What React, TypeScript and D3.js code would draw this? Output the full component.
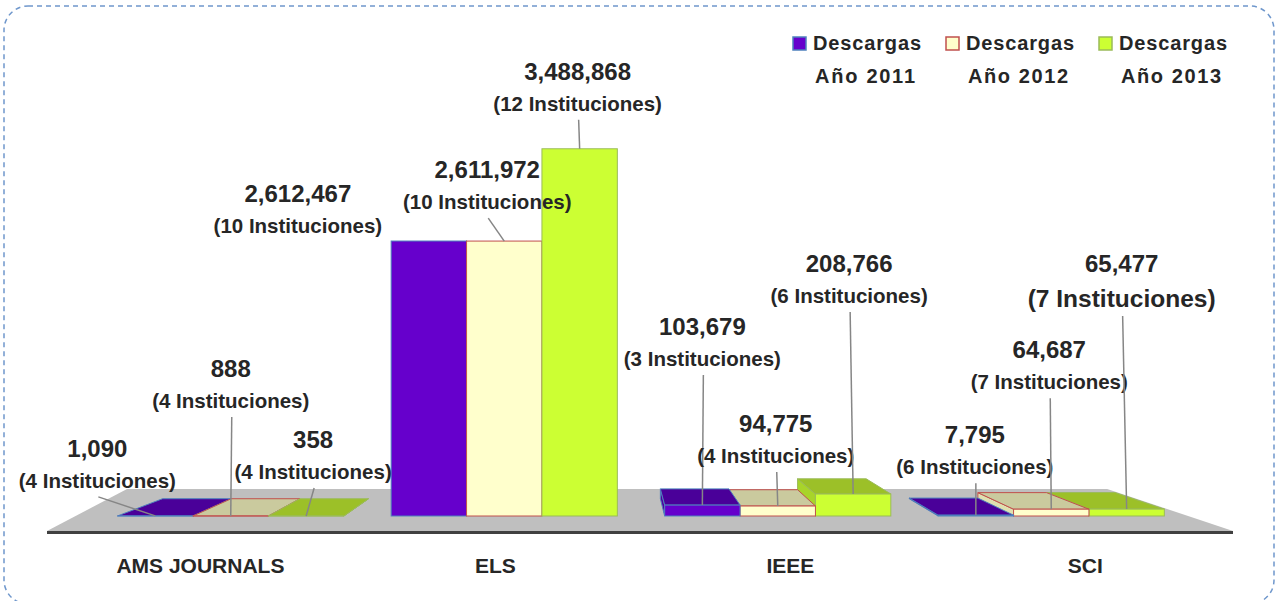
import * as d3 from 'd3'

// downloads per database, one array per year
const categories = ['AMS JOURNALS', 'ELS', 'IEEE', 'SCI']
const years = ['2011', '2012', '2013']
const downloads2011 = [1090, 2612467, 103679, 7795]
const downloads2012 = [888, 2611972, 94775, 64687]
const downloads2013 = [358, 3488868, 208766, 65477]
const institutions2011 = [4, 10, 3, 6]
const institutions2012 = [4, 10, 4, 7]
const institutions2013 = [4, 12, 6, 7]

const downloads = [downloads2011, downloads2012, downloads2013]
const institutions = [institutions2011, institutions2012, institutions2013]

// label placement, [dx, dy] from the top-front centre of each bar, per category then year
const labelOffsets = [
  [[-58, -59], [0, -139], [7, -68]],
  [[-131, -39], [-17, -63], [-2, -69]],
  [[0, -170], [-2, -74], [-4, -222]],
  [[-1, -72], [-2, -151], [-5, -237]],
]

const W = 1278
const H = 601
const baseY = 516
const vp = [617, 325] // vanishing point of the bars
const depth = 0.09
const floorVp = [508, 289]
const floorFront = 531
const floorBack = 489
const floorLeft = 47
const floorRight = 1233

const frontColors = ['#6600CC', '#FFFFCC', '#CCFF33']
const topColors = ['#4A0099', '#CACA9E', '#9CC028']
const sideColors = ['#52009F', '#E0E0B0', '#A8D42A']
const strokeColors = ['#4F81BD', '#C0504D', '#9BBB59']
const textColor = '#262626'
const font = '"Liberation Sans", Arial, sans-serif'

const fmt = d3.format(',')

type Pt = [number, number]
const proj = (p: Pt): Pt => [p[0] + depth * (vp[0] - p[0]), p[1] + depth * (vp[1] - p[1])]
const line = d3.line()
const poly = (pts: Pt[]) => line(pts) + 'Z'

export default function App() {
  const x = d3.scaleBand().domain(categories).range([94, 1188]).paddingInner(0.173).paddingOuter(0.0865)
  const xs = d3.scaleBand().domain(years).range([0, x.bandwidth()])
  const y = d3.scaleLinear().domain([0, 3500000]).range([baseY, baseY - 368.4])

  const bars: any[] = []
  categories.forEach((c, ci) => {
    years.forEach((yr, si) => {
      const x0 = (x(c) as number) + (xs(yr) as number)
      const x1 = x0 + xs.bandwidth()
      const v = downloads[si][ci]
      const yt = y(v)
      bars.push({ ci, si, x0, x1, cx: (x0 + x1) / 2, yt, v, inst: institutions[si][ci] })
    })
  })
  // paint the bars farthest from the vanishing point first
  const order = [...bars].sort((a, b) => Math.abs(b.cx - vp[0]) - Math.abs(a.cx - vp[0]))

  const tf = (floorFront - floorBack) / (floorFront - floorVp[1])
  const floorPts: Pt[] = [
    [floorLeft, floorFront],
    [floorLeft + tf * (floorVp[0] - floorLeft), floorBack],
    [floorRight + tf * (floorVp[0] - floorRight), floorBack],
    [floorRight, floorFront],
  ]

  return (
    <div style={{ position: 'absolute', left: 0, top: 0 }}>
      <svg width={W} height={H} style={{ display: 'block', background: '#fff' }}>
        <rect x={4} y={6} width={1270} height={598} rx={24} fill="none"
          stroke="#6F97CC" strokeWidth={1.5} strokeDasharray="5,4" />

        <path d={poly(floorPts)} fill="#BFBFBF" />
        <line x1={floorLeft} x2={floorRight} y1={floorFront + 1.5} y2={floorFront + 1.5}
          stroke="#404040" strokeWidth={3} />

        {order.map((b, i) => {
          const fTL: Pt = [b.x0, b.yt], fTR: Pt = [b.x1, b.yt]
          const fBL: Pt = [b.x0, baseY], fBR: Pt = [b.x1, baseY]
          const bTL = proj(fTL), bTR = proj(fTR), bBL = proj(fBL), bBR = proj(fBR)
          let side: Pt[] | null = null
          if (b.x1 <= vp[0]) side = [fTR, fBR, bBR, bTR]
          else if (b.x0 >= vp[0]) side = [fTL, fBL, bBL, bTL]
          const topVisible = bTL[1] < fTL[1] + 0.01
          return (
            <g key={i}>
              {side && <path d={poly(side)} fill={sideColors[b.si]} stroke={strokeColors[b.si]} strokeWidth={1} />}
              {topVisible && <path d={poly([fTL, fTR, bTR, bTL])} fill={topColors[b.si]} stroke={strokeColors[b.si]} strokeWidth={1} />}
              <rect x={b.x0} y={b.yt} width={b.x1 - b.x0} height={baseY - b.yt}
                fill={frontColors[b.si]} stroke={strokeColors[b.si]} strokeWidth={1} />
            </g>
          )
        })}

        {bars.map((b, i) => {
          const [dx, dy] = labelOffsets[b.ci][b.si]
          const lx = b.cx + dx
          const vy = b.yt + dy
          const big = b.ci === 3 && b.si === 2
          const iy = vy + (big ? 35 : 31)
          const leader = !(b.ci === 1 && b.si === 0)
          return (
            <g key={'l' + i} fill={textColor} fontFamily={font} fontWeight="bold" textAnchor="middle">
              {leader && <line x1={lx + 1} y1={iy + 9} x2={b.cx} y2={b.yt} stroke="#868686" strokeWidth={1.5} />}
              <text x={lx} y={vy} fontSize={24}>{fmt(b.v)}</text>
              <text x={lx} y={iy} fontSize={big ? 24.5 : 20.5}>({b.inst} Instituciones)</text>
            </g>
          )
        })}

        {categories.map((c) => {
          const cx = (x(c) as number) + x.bandwidth() / 2
          const lx = cx + 0.0785 * (cx - vp[0])
          return (
            <text key={c} x={lx} y={573} textAnchor="middle" fontFamily={font} fontWeight="bold"
              fontSize={21} fill={textColor}>{c}</text>
          )
        })}

        {years.map((yr, i) => {
          const lx = 793 + i * 153
          return (
            <g key={yr} fontFamily={font} fontWeight="bold" fontSize={20} fill={textColor}>
              <rect x={lx} y={37} width={13} height={13} fill={frontColors[i]} stroke={strokeColors[i]} strokeWidth={1.5} />
              <text x={lx + 20} y={50} textLength={108} lengthAdjust="spacing">Descargas</text>
              <text x={lx + 22} y={83} textLength={100} lengthAdjust="spacing">Año {yr}</text>
            </g>
          )
        })}
      </svg>
    </div>
  )
}
